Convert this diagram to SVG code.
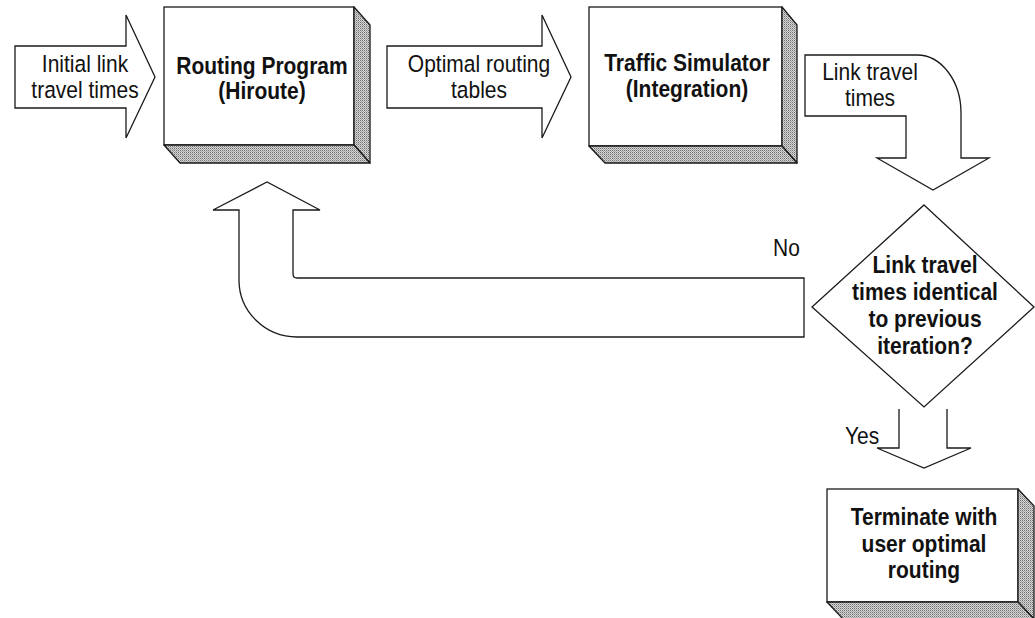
<svg xmlns="http://www.w3.org/2000/svg" width="1035" height="618" viewBox="0 0 1035 618">
  <style>
    .shape { fill: #ffffff; stroke: #1a1a1a; stroke-width: 1.3; stroke-linejoin: miter; }
    .face { fill: url(#halftone); stroke: #1a1a1a; stroke-width: 1.3; stroke-linejoin: round; }
    .lbl { font-family: "Liberation Sans", Arial, sans-serif; font-size: 23.5px; fill: #111; text-anchor: middle; }
    .bold { font-weight: bold; }
    .start { text-anchor: start; }
  </style>
  <defs>
    <!-- dithered grey used on the box side faces -->
    <pattern id="halftone" width="2" height="2" patternUnits="userSpaceOnUse">
      <rect width="2" height="2" fill="#d6d6d6"/>
      <rect width="1" height="1" fill="#707070"/>
      <rect x="1" y="1" width="1" height="1" fill="#a4a4a4"/>
    </pattern>
  </defs>

  <rect width="1035" height="618" fill="#ffffff"/>

  <!-- block arrows; labels use a slightly condensed face (x scale 0.894) -->
  <g id="connectors">
    <g id="arrow-initial">
      <path class="shape" d="M15,46 H126 V15 L155,77 L126,138 V108 H15 Z"/>
      <text class="lbl" transform="matrix(0.894 0 0 1 85 72)">Initial link</text>
      <text class="lbl" transform="matrix(0.894 0 0 1 85 98)">travel times</text>
    </g>
    <g id="arrow-tables">
      <path class="shape" d="M387,46 H542 V15 L571,77 L542,138 V108 H387 Z"/>
      <text class="lbl" transform="matrix(0.894 0 0 1 479 72)">Optimal routing</text>
      <text class="lbl" transform="matrix(0.894 0 0 1 479 98)">tables</text>
    </g>
    <g id="arrow-linktimes">
      <path class="shape" d="M805,55 H917 A44,58 0 0 1 961,113 V158 H989 L933,190 L877,158 H906 V116 H805 Z"/>
      <text class="lbl" transform="matrix(0.894 0 0 1 870 80)">Link travel</text>
      <text class="lbl" transform="matrix(0.894 0 0 1 870 106)">times</text>
    </g>
    <g id="arrow-no">
      <path class="shape" d="M804,337 H297 A58,57 0 0 1 239,280 V210 H213 L267,182 L320,210 H293 V274 Q293,278 297,278 H804 Z"/>
      <text class="lbl start" transform="matrix(0.894 0 0 1 773 256)">No</text>
    </g>
    <g id="arrow-yes">
      <path class="shape" d="M899,409 V448 H877 L924,468 L971,448 H947 V409"/>
      <text class="lbl start" transform="matrix(0.894 0 0 1 845 444)">Yes</text>
    </g>
  </g>

  <!-- Routing Program box -->
  <g id="node-routing">
    <rect class="shape" x="164" y="7" width="190" height="138"/>
    <path class="face" d="M354,7 L370,25 V163 L354,145 Z"/>
    <path class="face" d="M164,145 H354 L370,163 H180 Z"/>
    <text class="lbl bold" transform="matrix(0.894 0 0 1 262 74)">Routing Program</text>
    <text class="lbl bold" transform="matrix(0.894 0 0 1 262 99)">(Hiroute)</text>
  </g>

  <!-- Traffic Simulator box -->
  <g id="node-simulator">
    <rect class="shape" x="589" y="7" width="193" height="139"/>
    <path class="face" d="M782,7 L797,25 V163 L782,146 Z"/>
    <path class="face" d="M589,146 H782 L797,163 H605 Z"/>
    <text class="lbl bold" transform="matrix(0.894 0 0 1 687 71)">Traffic Simulator</text>
    <text class="lbl bold" transform="matrix(0.894 0 0 1 687 97)">(Integration)</text>
  </g>

  <!-- convergence test -->
  <g id="node-decision">
    <path class="shape" d="M924,205 L1034,307 L924,407 L812,307 Z"/>
    <text class="lbl bold" transform="matrix(0.894 0 0 1 925 273)">Link travel</text>
    <text class="lbl bold" transform="matrix(0.894 0 0 1 925 300)">times identical</text>
    <text class="lbl bold" transform="matrix(0.894 0 0 1 925 327)">to previous</text>
    <text class="lbl bold" transform="matrix(0.894 0 0 1 925 354)">iteration?</text>
  </g>

  <!-- terminal box -->
  <g id="node-terminate">
    <rect class="shape" x="827" y="489" width="191" height="113"/>
    <path class="face" d="M1018,489 L1034,506 V619 L1018,602 Z"/>
    <path class="face" d="M827,602 H1018 L1034,619 H843 Z"/>
    <text class="lbl bold" transform="matrix(0.894 0 0 1 924 525)">Terminate with</text>
    <text class="lbl bold" transform="matrix(0.894 0 0 1 924 552)">user optimal</text>
    <text class="lbl bold" transform="matrix(0.894 0 0 1 924 578)">routing</text>
  </g>
</svg>
